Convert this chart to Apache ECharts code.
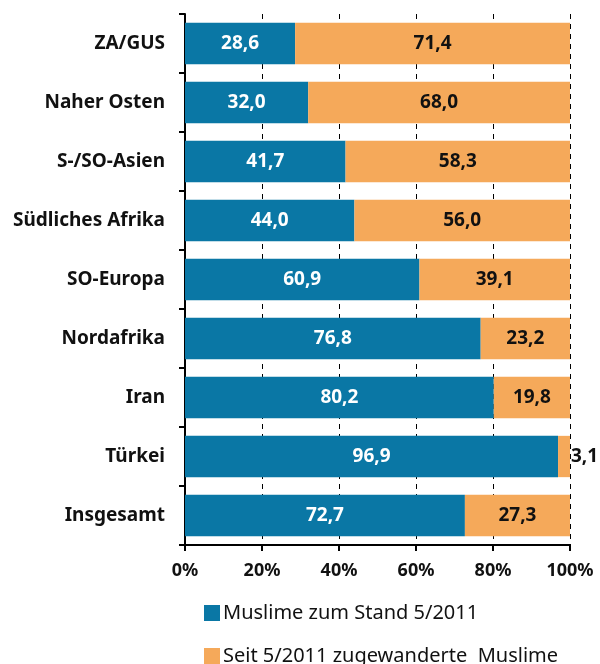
<!DOCTYPE html>
<html lang="de">
<head>
    <meta charset="UTF-8">
    <title>Muslime nach Herkunftsregion</title>
    <script src="https://cdn.jsdelivr.net/npm/echarts@6/dist/echarts.min.js"></script>
</head>
<body style="margin:0">
<div id="main" style="width: 600px;height:664px;"></div>
<script type="text/javascript">
    var regionen = ['ZA/GUS', 'Naher Osten', 'S-/SO-Asien', 'Südliches Afrika', 'SO-Europa',
        'Nordafrika', 'Iran', 'Türkei', 'Insgesamt'];
    var bestand = [28.6, 32.0, 41.7, 44.0, 60.9, 76.8, 80.2, 96.9, 72.7];
    var zugewandert = [71.4, 68.0, 58.3, 56.0, 39.1, 23.2, 19.8, 3.1, 27.3];
    var tickLabels = ['0%', '20%', '40%', '60%', '80%', '100%'];

    var fontName = 'Noto Sans';

    function fmt(p) {
        return p.value.toFixed(1).replace('.', ',');
    }

    var myChart = echarts.init(document.getElementById('main'));

    var option = {
        animation: false,
        textStyle: { fontFamily: fontName },
        grid: { left: 185, right: 30, top: 14, bottom: 119 },
        legend: {
            orient: 'vertical',
            left: 204,
            top: 603,
            height: 120,
            padding: 0,
            itemGap: 23,
            itemWidth: 16,
            itemHeight: 16,
            icon: 'rect',
            textStyle: { fontSize: 20, color: '#111', fontFamily: fontName, padding: [0, 0, 0, -2] },
            data: ['Muslime zum Stand 5/2011', 'Seit 5/2011 zugewanderte  Muslime']
        },
        xAxis: {
            type: 'value',
            min: 0,
            max: 100,
            interval: 20,
            axisLine: { show: true, lineStyle: { color: '#000', width: 2 } },
            axisTick: { show: true, length: 6, lineStyle: { color: '#000', width: 2 } },
            axisLabel: {
                fontSize: 18, fontWeight: 'bold', color: '#111', margin: 17,
                formatter: function (v) { return tickLabels[v / 20]; }
            },
            splitLine: { show: true, lineStyle: { color: '#000', type: [5, 5], width: 1 } }
        },
        yAxis: {
            type: 'category',
            inverse: true,
            data: regionen,
            axisLine: { show: true, lineStyle: { color: '#000', width: 2 } },
            axisTick: { show: true, length: 6, lineStyle: { color: '#000', width: 2 } },
            axisLabel: { fontSize: 19, fontWeight: 'bold', color: '#111', margin: 20 }
        },
        series: [{
            name: 'Muslime zum Stand 5/2011',
            type: 'bar',
            stack: 'gesamt',
            barWidth: '70%',
            itemStyle: { color: '#0a77a5' },
            label: {
                show: true, position: 'inside', color: '#fff',
                fontSize: 19, fontWeight: 'bold', formatter: fmt
            },
            data: bestand
        }, {
            name: 'Seit 5/2011 zugewanderte  Muslime',
            type: 'bar',
            stack: 'gesamt',
            barWidth: '70%',
            itemStyle: { color: '#f5a95a' },
            label: {
                show: true, position: 'inside', color: '#111',
                fontSize: 19, fontWeight: 'bold', formatter: fmt
            },
            data: zugewandert.map(function (v) {
                if (v < 10) {
                    return { value: v, label: { position: 'right', distance: 1 } };
                }
                return v;
            })
        }]
    };
    myChart.setOption(option);
</script>
</body>
</html>
